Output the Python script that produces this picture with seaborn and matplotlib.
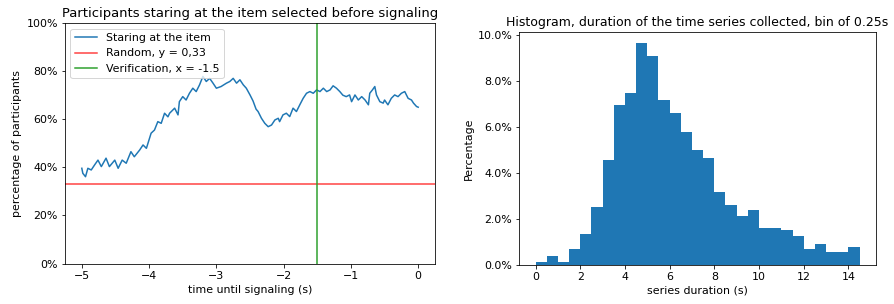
# %%
import numpy as np
import pandas as pd
import matplotlib
matplotlib.use("Agg")
import matplotlib.pyplot as plt
import seaborn as sns
from matplotlib.ticker import PercentFormatter

plt.rcParams["font.size"] = 11

# %%
# Share of participants staring at the selected item
time_s = [
    -5.0, -4.985, -4.945, -4.91, -4.86, -4.81, -4.76, -4.71, -4.64, -4.59,
    -4.51, -4.46, -4.40, -4.34, -4.27, -4.22, -4.14, -4.09, -4.04, -3.97,
    -3.92, -3.87, -3.82, -3.77, -3.72, -3.695, -3.62, -3.57, -3.55, -3.50,
    -3.45, -3.40, -3.35, -3.30, -3.25, -3.20, -3.15, -3.10, -3.05, -3.00,
    -2.93, -2.85, -2.80, -2.75, -2.70, -2.65, -2.60, -2.555, -2.50, -2.455,
    -2.41, -2.38, -2.33, -2.28, -2.23, -2.18, -2.13, -2.08, -2.06, -2.01,
    -1.96, -1.91, -1.86, -1.81, -1.76, -1.71, -1.66, -1.61, -1.56, -1.51,
    -1.46, -1.41, -1.36, -1.31, -1.265, -1.215, -1.165, -1.12, -1.07, -1.02,
    -0.99, -0.94, -0.89, -0.84, -0.79, -0.74, -0.72, -0.68, -0.645, -0.62,
    -0.57, -0.52, -0.50, -0.45, -0.40, -0.35, -0.30, -0.25, -0.20, -0.15,
    -0.10, -0.07, -0.025, 0.0,
]
staring = [
    39.6, 37.5, 36.1, 39.6, 38.9, 41.0, 43.0, 40.3, 43.8, 40.3,
    43.0, 39.6, 43.0, 41.7, 46.5, 44.4, 47.2, 49.3, 47.9, 54.2,
    55.5, 59.0, 58.3, 62.5, 61.0, 62.5, 64.6, 61.8, 67.3, 69.4,
    68.0, 70.8, 72.9, 71.5, 74.3, 77.8, 75.7, 77.0, 75.0, 72.9,
    73.6, 75.0, 75.7, 77.0, 75.0, 76.4, 74.3, 72.9, 70.1, 67.6,
    64.2, 63.2, 60.4, 58.3, 56.9, 57.6, 59.7, 60.4, 59.0, 61.8,
    62.5, 61.1, 64.6, 63.2, 66.0, 68.7, 70.8, 71.5, 70.8, 72.2,
    71.5, 72.9, 71.5, 72.2, 73.9, 72.9, 71.5, 70.0, 69.4, 70.1,
    67.3, 70.1, 68.0, 69.4, 68.0, 66.0, 70.8, 72.2, 73.6, 70.1,
    67.3, 66.7, 68.0, 66.0, 68.7, 70.1, 69.4, 70.8, 71.5, 68.7,
    68.0, 66.7, 65.3, 65.0,
]
random_level = 0.33
verification_t = -1.5

# Histogram of series durations (percent per 0.5 s bin)
bin_edges = [i * 0.5 for i in range(30)]
bin_pct = [
    0.13, 0.38, 0.13, 0.71, 1.35, 2.53, 4.58, 6.94, 7.49, 9.64,
    9.07, 7.17, 6.61, 5.77, 4.99, 4.67, 3.17, 2.62, 2.15, 2.39,
    1.59, 1.59, 1.51, 1.27, 0.71, 0.93, 0.57, 0.57, 0.80,
]

# %%
fig = plt.figure(figsize=(894 / 72, 304 / 72), dpi=72)
ax1 = fig.add_axes([0.0727, 0.1332, 0.4139, 0.791])
ax2 = fig.add_axes([0.5809, 0.1283, 0.3987, 0.7655])

line_df = pd.DataFrame({"t": time_s, "share": np.array(staring) / 100})
sns.lineplot(data=line_df, x="t", y="share", ax=ax1, color="tab:blue",
             linewidth=1.5, label="Staring at the item")
ax1.axhline(random_level, color="red", alpha=0.75, linewidth=1.5,
            label="Random, y = 0,33")
ax1.axvline(verification_t, color="tab:green", linewidth=1.5,
            label="Verification, x = -1.5")
ax1.set_ylim(0, 1)
ax1.yaxis.set_major_formatter(PercentFormatter(1, decimals=0))
ax1.set_xlabel("time until signaling (s)")
ax1.set_ylabel("percentage of participants")
ax1.set_title("Participants staring at the item selected before signaling", fontsize=13.1)
ax1.legend(loc="upper left")

hist_df = pd.DataFrame({
    "duration": [e + 0.25 for e in bin_edges[:-1]],
    "share": np.array(bin_pct) / 100,
})
sns.histplot(data=hist_df, x="duration", weights="share", bins=bin_edges, ax=ax2,
             color="#1f77b4", alpha=1, linewidth=0)
ax2.yaxis.set_major_formatter(PercentFormatter(1, decimals=1))
ax2.set_xlabel("series duration (s)")
ax2.set_ylabel("Percentage")
ax2.set_title("Histogram, duration of the time series collected, bin of 0.25s", fontsize=12.5)

fig.savefig("out.png", dpi=72)
